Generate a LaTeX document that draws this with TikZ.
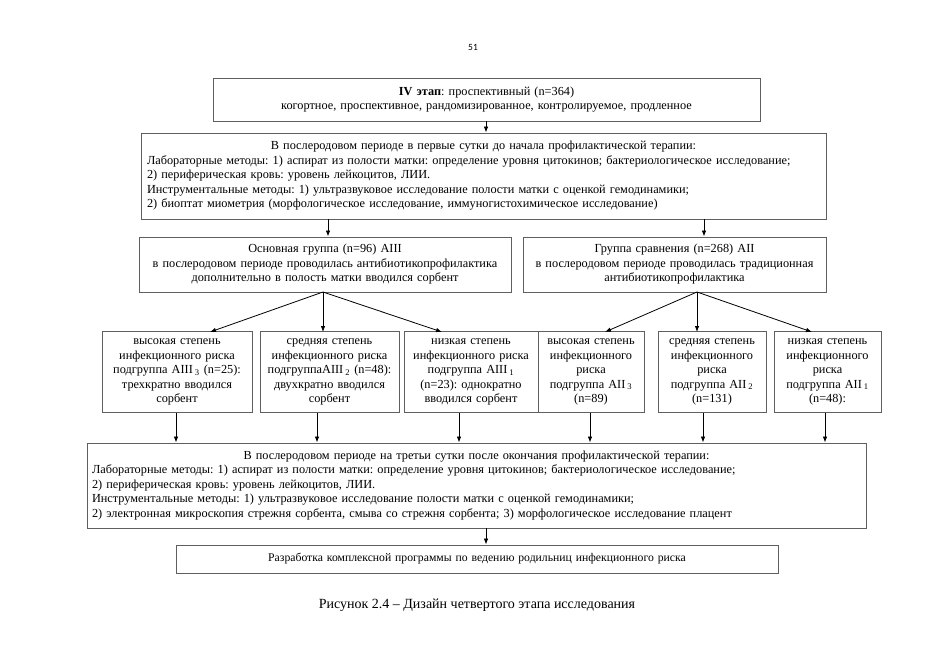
\documentclass[tikz,border=0pt]{standalone}
\usepackage{fontspec}
\setmainfont{Liberation Serif}
\newfontfamily\pagefont{Carlito}
\usetikzlibrary{arrows.meta}
\definecolor{edgegray}{RGB}{95,95,95}
\frenchspacing
\begin{document}
\begin{tikzpicture}[x=1pt,y=-1pt,
  box/.style={draw=edgegray, line width=0.9pt, inner xsep=2pt, inner ysep=0pt,
    align=center, font=\fontsize{12.3}{14.5}\selectfont},
  arr/.style={-{Latex[length=6pt,width=4.5pt]}, line width=0.8pt, black},
  ln/.style={line width=0.8pt, black}]
\useasboundingbox[fill=white] (0,0) rectangle (950,671);

\node[font=\pagefont\fontsize{9.5}{11}\selectfont] (pg) at (473,47) {51};

% top box
\node[box, minimum width=547pt, minimum height=43pt, text width=540pt] (b1) at (486.5,99.5)
  {\textbf{IV этап}: проспективный (n=364)\\
   когортное, проспективное, рандомизированное, контролируемое, продленное};

% second box
\node[box, minimum width=685pt, minimum height=86pt, text width=673pt, inner xsep=6pt, align=left] (b2) at (483.5,176)
  {\makebox[\hsize]{В послеродовом периоде в первые сутки до начала профилактической терапии:}\\
   Лабораторные методы: 1) аспират из полости матки: определение уровня цитокинов; бактериологическое исследование;\\
   2) периферическая кровь: уровень лейкоцитов, ЛИИ.\\
   Инструментальные методы: 1) ультразвуковое исследование полости матки с оценкой гемодинамики;\\
   2) биоптат миометрия (морфологическое исследование, иммуногистохимическое исследование)};

% groups
\node[box, minimum width=372pt, minimum height=55pt, text width=366pt] (g1) at (325,264.5)
  {Основная группа (n=96) АIII\\
   в послеродовом периоде проводилась антибиотикопрофилактика\\
   дополнительно в полость матки вводился сорбент};
\node[box, minimum width=303pt, minimum height=55pt, text width=297pt] (g2) at (674.5,264.5)
  {Группа сравнения (n=268) АII\\
   в послеродовом периоде проводилась традиционная\\
   антибиотикопрофилактика};

% subgroups
\node[box, minimum width=150pt, minimum height=81pt, text width=146pt] (s1) at (177,372)
  {высокая степень\\ инфекционного риска\\ подгруппа АIII\,\textsubscript{3} (n=25):\\ трехкратно вводился\\ сорбент};
\node[box, minimum width=139pt, minimum height=81pt, text width=135pt] (s2) at (329.5,372)
  {средняя степень\\ инфекционного риска\\ подгруппаАIII\,\textsubscript{2} (n=48):\\ двухкратно вводился\\ сорбент};
\node[box, minimum width=134pt, minimum height=81pt, text width=130pt] (s3) at (471,372)
  {низкая степень\\ инфекционного риска\\ подгруппа АIII\,\textsubscript{1}\\ (n=23): однократно\\ вводился сорбент};
\node[box, minimum width=106pt, minimum height=81pt, text width=102pt] (s4) at (591,372)
  {высокая степень\\ инфекционного\\ риска\\ подгруппа АII\,\textsubscript{3}\\ (n=89)};
\node[box, minimum width=108pt, minimum height=81pt, text width=104pt] (s5) at (712,372)
  {средняя степень\\ инфекционного\\ риска\\ подгруппа АII\,\textsubscript{2}\\ (n=131)};
\node[box, minimum width=107pt, minimum height=81pt, text width=103pt] (s6) at (827.5,372)
  {низкая степень\\ инфекционного\\ риска\\ подгруппа АII\,\textsubscript{1}\\ (n=48):};

% bottom box
\node[box, minimum width=779pt, minimum height=85pt, text width=769pt, inner xsep=5pt, align=left] (b3) at (476.5,485.5)
  {\makebox[\hsize]{В послеродовом периоде на третьи сутки после окончания профилактической терапии:}\\
   Лабораторные методы: 1) аспират из полости матки: определение уровня цитокинов; бактериологическое исследование;\\
   2) периферическая кровь: уровень лейкоцитов, ЛИИ.\\
   Инструментальные методы: 1) ультразвуковое исследование полости матки с оценкой гемодинамики;\\
   2) электронная микроскопия стрежня сорбента, смыва со стрежня сорбента; 3) морфологическое исследование плацент};

% final box
\node[box, minimum width=602pt, minimum height=28pt, text width=596pt, font=\fontsize{11.7}{13}\selectfont] (b4) at (477,559)
  {Разработка комплексной программы по ведению родильниц инфекционного риска};

\node[font=\fontsize{14}{16}\selectfont] (cap) at (477,605) {Рисунок 2.4 – Дизайн четвертого этапа исследования};

% connectors
\coordinate (a1) at (486,121);
\draw[arr] (a1) -- (a1 |- b2.north);
\coordinate (a2) at (328,219);
\draw[arr] (a2) -- (a2 |- g1.north);
\coordinate (a3) at (704,219);
\draw[arr] (a3) -- (a3 |- g2.north);

\coordinate (f1) at (323,292);
\coordinate (t1) at (210,332);
\coordinate (t2) at (323,332);
\coordinate (t3) at (442,332);
\draw[arr] (f1) -- (t1);
\draw[arr] (f1) -- (t2);
\draw[arr] (f1) -- (t3);

\coordinate (f2) at (697,292);
\coordinate (t4) at (605,332);
\coordinate (t5) at (697,332);
\coordinate (t6) at (812,332);
\draw[arr] (f2) -- (t4);
\draw[arr] (f2) -- (t5);
\draw[arr] (f2) -- (t6);

\foreach \n/\xx in {s1/176, s2/317, s3/459, s4/590, s5/703, s6/825}{
  \coordinate (d\n) at (\xx,413);
  \draw[arr] (d\n) -- (d\n |- b3.north);
}
\coordinate (a4) at (486,528);
\draw[arr] (a4) -- (a4 |- b4.north);
\end{tikzpicture}
\end{document}
